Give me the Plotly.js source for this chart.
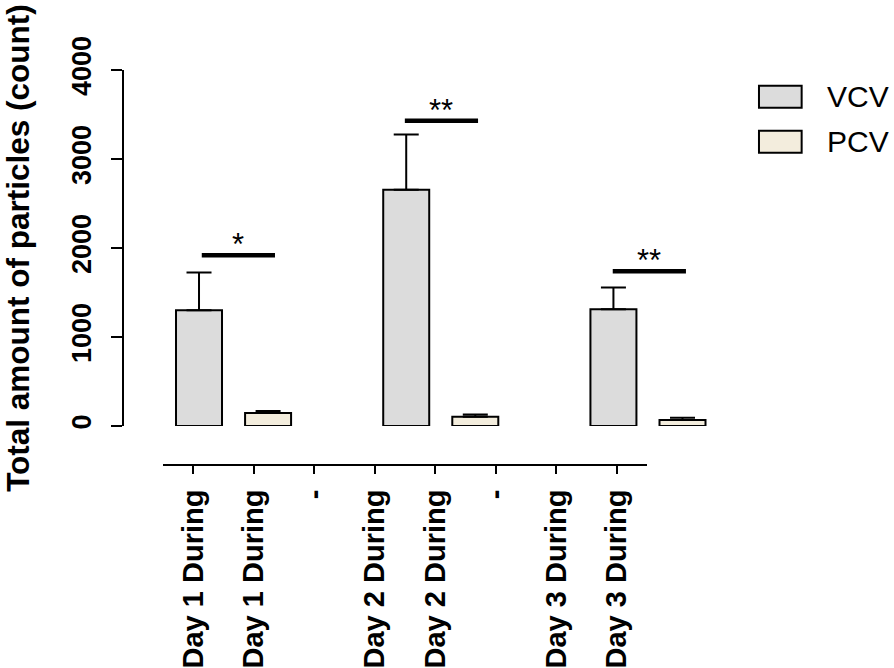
<!DOCTYPE html>
<html>
<head>
<meta charset="utf-8">
<script src="https://cdn.plot.ly/plotly-3.0.1.min.js"></script>
<style>
    html, body { margin: 0; padding: 0; background: #fff; }
    #chart { width: 894px; height: 668px; }
</style>
</head>
<body>
<div id="chart"></div>
<script>
// tick labels under the x axis (Prism leaves a "-" for the empty columns)
const tickLabels = ["Day 1 During", "Day 1 During", "-", "Day 2 During", "Day 2 During", "-", "Day 3 During", "Day 3 During"];
const tickPos = [0, 1, 2, 3, 4, 5, 6, 7];

// bar positions (column index of each bar)
const vcvPos = [0, 1, 2].map(i => i * 3);
const pcvPos = [0, 1, 2].map(i => i * 3 + 1);

const seriesNames = ["VCV", "PCV"];
const seriesColors = ["#dcdcdc", "#f3eddd"];

const vcvMean = [1300, 2655, 1312];
const vcvErr = [425, 620, 245];
const pcvMean = [146, 105, 67];
const pcvErr = [22, 25, 26];

// significance brackets
const sigStart = [0.04, 2.98, 5.99];
const sigEnd = [1.10, 4.04, 7.05];
const sigY = [1920, 3430, 1740];
const sigText = ["*", "**", "**"];

const FONT = "Liberation Sans, Arial, sans-serif";

function barTrace(name, x, y, err, color) {
    return {
        type: "bar",
        name: name,
        x: x,
        y: y,
        width: 0.666,
        marker: { color: color, line: { color: "#000", width: 2 } },
        error_y: {
            type: "data",
            symmetric: false,
            array: err,
            arrayminus: err.map(() => 0),
            color: "#000",
            thickness: 2,
            width: 12.5
        },
        xaxis: "x",
        yaxis: "y",
        showlegend: false,
        hoverinfo: "skip"
    };
}

var data = [
    barTrace(seriesNames[0], vcvPos, vcvMean, vcvErr, seriesColors[0]),
    barTrace(seriesNames[1], pcvPos, pcvMean, pcvErr, seriesColors[1]),
    // empty trace so the labelled column axis gets drawn
    {
        type: "scatter", mode: "markers",
        x: tickPos, y: tickPos.map(() => null),
        xaxis: "x2", yaxis: "y",
        showlegend: false, hoverinfo: "skip"
    }
];

var shapes = [];
var annotations = [];

for (var i = 0; i < sigY.length; i++) {
    shapes.push({
        type: "line", xref: "x", yref: "y",
        x0: sigStart[i], x1: sigEnd[i], y0: sigY[i], y1: sigY[i],
        line: { color: "#000", width: 4.5 }
    });
    annotations.push({
        xref: "x", yref: "y",
        x: (sigStart[i] + sigEnd[i]) / 2, y: sigY[i],
        text: sigText[i], showarrow: false,
        yanchor: "bottom", yshift: -9,
        font: { family: FONT, size: 31, color: "#000" }
    });
}

// legend drawn by hand so the swatches get Prism's wide boxes
var legTop = [0.9603, 0.8463];
seriesNames.forEach((name, i) => {
    shapes.push({
        type: "rect", xref: "paper", yref: "paper",
        x0: 1.0654, x1: 1.137, y0: legTop[i] - 0.0557, y1: legTop[i],
        fillcolor: seriesColors[i], line: { color: "#000", width: 2 }
    });
    annotations.push({
        xref: "paper", yref: "paper",
        x: 1.176, y: legTop[i] - 0.028,
        xanchor: "left", yanchor: "middle",
        text: name, showarrow: false,
        font: { family: FONT, size: 30, color: "#000" }
    });
});

var layout = {
    width: 894,
    height: 668,
    margin: { l: 124, r: 174, t: 70, b: 203 },
    paper_bgcolor: "#fff",
    plot_bgcolor: "rgba(0,0,0,0)",
    barmode: "overlay",
    showlegend: false,
    font: { family: FONT, color: "#000" },
    xaxis: {
        domain: [0, 1],
        range: [-1.086, 7.543],
        anchor: "y",
        visible: false,
        showgrid: false,
        zeroline: false
    },
    xaxis2: {
        domain: [0.0654, 0.8775],
        range: [-0.5, 7.5],
        anchor: "free",
        position: 0,
        showline: true,
        linecolor: "#000",
        linewidth: 2,
        ticks: "outside",
        ticklen: 8,
        tickwidth: 2,
        tickcolor: "#000",
        tickmode: "array",
        tickvals: tickPos,
        ticktext: tickLabels,
        tickangle: -90,
        ticklabelstandoff: 4,
        tickfont: { family: FONT, size: 29, weight: "bold", color: "#000" },
        showgrid: false,
        zeroline: false
    },
    yaxis: {
        domain: [0.0987, 1],
        range: [0, 4000],
        anchor: "x",
        showline: true,
        linecolor: "#000",
        linewidth: 2,
        ticks: "outside",
        ticklen: 11,
        tickwidth: 2,
        tickcolor: "#000",
        tickvals: [0, 1000, 2000, 3000, 4000],
        tickangle: -90,
        ticklabelstandoff: 9,
        tickfont: { family: FONT, size: 27, weight: "bold", color: "#000" },
        showgrid: false,
        zeroline: false,
        title: {
            text: "Total amount of particles (count)",
            font: { family: FONT, size: 31.5, weight: "bold", color: "#000" },
            standoff: 46
        }
    },
    shapes: shapes,
    annotations: annotations
};

Plotly.newPlot("chart", data, layout, { displayModeBar: false, staticPlot: true });
</script>
</body>
</html>
